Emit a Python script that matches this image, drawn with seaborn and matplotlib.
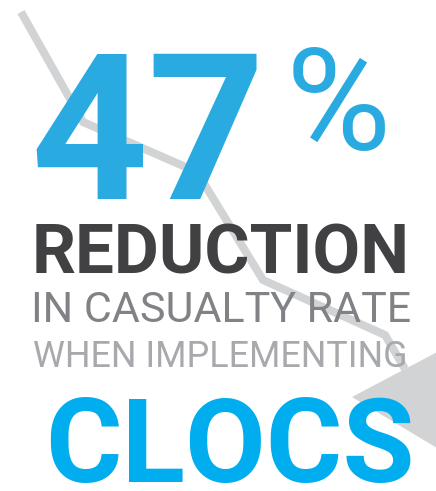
import matplotlib
matplotlib.use("Agg")
import matplotlib.pyplot as plt
import seaborn as sns

# headline numbers / wording
reduction_pct = 47
pct_sign = "%"
headline_lines = ["REDUCTION", "IN CASUALTY RATE", "WHEN IMPLEMENTING"]
brand = "CLOCS"

# downward trend line behind the text (canvas pixels, y pointing down)
trend_x = [21, 83, 197, 263, 385, 405]
trend_y = [12, 122, 172, 280, 335, 369]

# arrow head at the end of the trend line
head_x = [352, 458, 457]
head_y = [397, 341, 460]

sns.set_theme(style="white")
plt.rcParams["font.family"] = ["Roboto", "DejaVu Sans"]

W, H = 436, 491
fig = plt.figure(figsize=(W / 100, H / 100), dpi=100)
ax = fig.add_axes([0, 0, 1, 1])
ax.set_xlim(0, W)
ax.set_ylim(H, 0)
ax.axis("off")

GREY_LINE = "#d1d3d4"
sns.lineplot(x=trend_x, y=trend_y, sort=False, estimator=None, color=GREY_LINE,
             lw=5.8, ax=ax, zorder=1)
for ln in ax.lines:
    ln.set_solid_joinstyle("miter")
    ln.set_solid_capstyle("butt")
ax.fill(head_x, head_y, color=GREY_LINE, lw=0, zorder=1)

renderer = fig.canvas.get_renderer()
CAP = 0.711 * 100 / 72  # Roboto cap height in px per point


def fit_text(s, left, right, baseline, color, weight):
    # scale the font so the text spans the same width as in the original
    t = ax.text((left + right) / 2, baseline, s, ha="center", va="baseline",
                color=color, fontweight=weight, fontsize=40, zorder=3)
    for _ in range(4):
        w = t.get_window_extent(renderer).width
        t.set_fontsize(t.get_fontsize() * (right - left) / w)
    return t


fit_text(str(reduction_pct), 30, 265, 199, "#29abe2", "bold")
ax.text(286, 150, pct_sign, ha="left", va="baseline", color="#29abe2",
        fontweight="normal", fontsize=102 / CAP, zorder=3)
fit_text(headline_lines[0], 32, 410, 273, "#414042", "bold")
fit_text(headline_lines[1], 31, 412, 322, "#808285", "normal")
fit_text(headline_lines[2], 33, 407, 367, "#a7a9ac", "normal")
fit_text(brand, 45, 415, 482, "#00aeef", "bold")

fig.savefig("out.png", dpi=100)
